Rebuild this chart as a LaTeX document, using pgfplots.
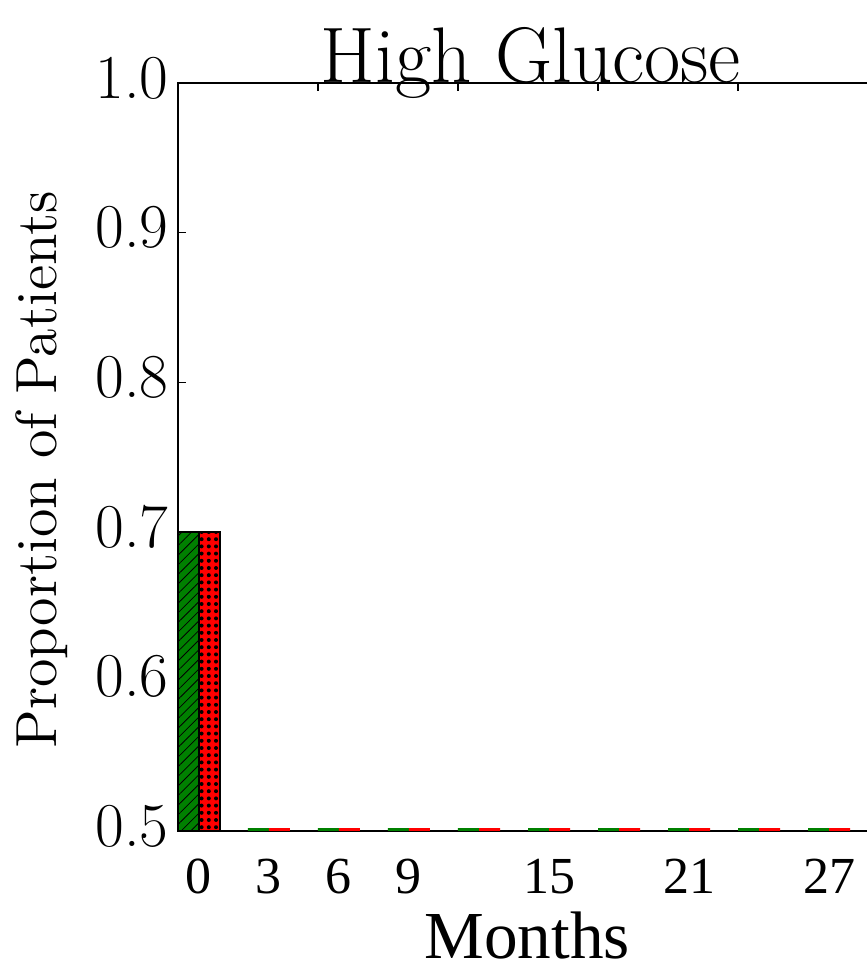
\documentclass[border=0pt]{standalone}
\usepackage{fontspec}
\usepackage{pgfplots}
\pgfplotsset{compat=1.18}
\usetikzlibrary{patterns.meta}
\newfontfamily\timesfont{Liberation Serif}
\definecolor{mplgreen}{rgb}{0,0.5,0}
\definecolor{mplred}{rgb}{1,0,0}

\begin{document}
\begin{tikzpicture}
\begin{axis}[
    scale only axis, width=175pt, height=187pt,
    xmin=0, xmax=10, ymin=0.5, ymax=1.0,
    axis line style={line width=0.5pt},
    tick align=inside, major tick length=2pt,
    tick style={black, line width=0.3pt},
    xtick={2,4,6,8}, xticklabels={},
    xtick pos=right, xticklabel pos=left,
    extra x ticks={0.3,1.3,2.3,3.3,5.3,7.3,9.3},
    extra x tick labels={0,3,6,9,15,21,27},
    extra x tick style={major tick length=0pt},
    xticklabel style={font=\timesfont\fontsize{13}{15}\selectfont, anchor=base, yshift=-15.75pt},
    ytick={0.5,0.6,0.7,0.8,0.9,1.0}, ytick pos=left,
    /pgf/number format/assume math mode=true,
    yticklabel style={font=\fontsize{15.6}{18}\selectfont, inner sep=0pt, xshift=-2.2pt, yshift=1.2pt,
        /pgf/number format/.cd, fixed, fixed zerofill, precision=1},
    title={High Glucose},
    every axis title shift=0pt,
    title style={font=\fontsize{19.7}{23}\selectfont, at={(axis description cs:0.504,1)}, anchor=base, yshift=0.25pt},
    xlabel={Months},
    xlabel style={font=\timesfont\fontsize{16.8}{19}\selectfont, at={(axis description cs:0.499,0)}, anchor=base, yshift=-31.9pt},
    ylabel={Proportion of Patients},
    ylabel style={font=\fontsize{14.5}{17}\selectfont, at={(axis description cs:-0.1729,0.483)}, anchor=base},
  ]
  % month 0
  \addplot[ybar, bar width=0.3, bar shift=0.15, fill=mplgreen, draw=black, line width=0.4pt,
    postaction={pattern={Lines[angle=45,distance=1.7pt,line width=0.2pt]}}]
    coordinates {(0,0.70)};
  \addplot[ybar, bar width=0.3, bar shift=0.45, fill=mplred, draw=black, line width=0.4pt,
    postaction={pattern={Dots[distance=1.8pt,radius=0.5pt]}}]
    coordinates {(0,0.70)};
  % later months: below the axis floor, only a sliver shows
  \addplot[ybar, bar width=0.3, bar shift=0.15, fill=mplgreen, draw=none,
    y filter/.expression={max(y,0.502)}]
    coordinates {(1,0.30)(2,0.30)(3,0.30)(4,0.30)(5,0.30)(6,0.30)(7,0.30)(8,0.30)(9,0.30)};
  \addplot[ybar, bar width=0.3, bar shift=0.45, fill=mplred, draw=none,
    y filter/.expression={max(y,0.502)}]
    coordinates {(1,0.30)(2,0.30)(3,0.30)(4,0.30)(5,0.30)(6,0.30)(7,0.30)(8,0.30)(9,0.30)};
\end{axis}
\pgfresetboundingbox
\path[use as bounding box] (-44.5pt,-33.25pt) rectangle (172.25pt,207.75pt);
\end{tikzpicture}
\end{document}
